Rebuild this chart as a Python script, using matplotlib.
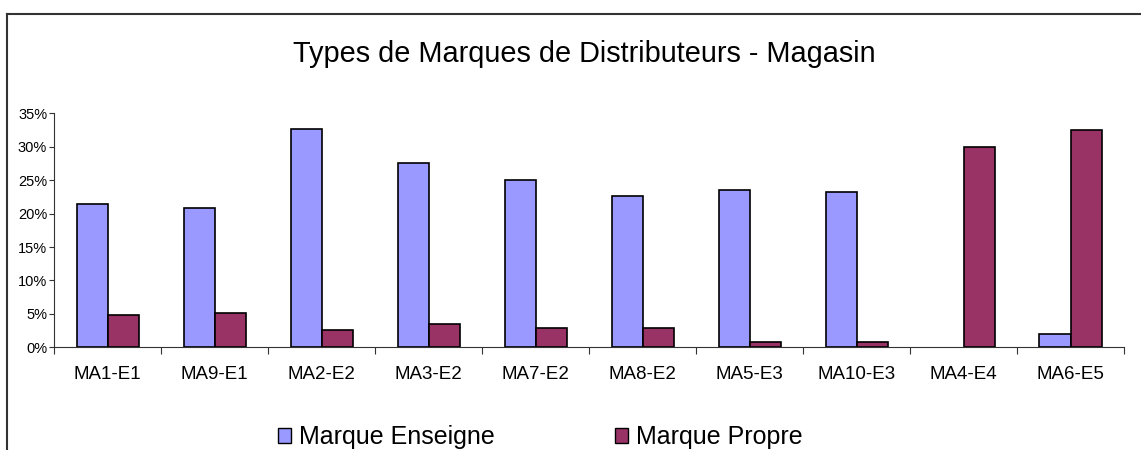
import matplotlib
matplotlib.use("Agg")
import matplotlib.pyplot as plt
import numpy as np
from matplotlib.lines import Line2D
from matplotlib.patches import Rectangle

plt.rcParams['font.family'] = ['Liberation Sans', 'DejaVu Sans']

categories = ["MA1-E1", "MA9-E1", "MA2-E2", "MA3-E2", "MA7-E2",
              "MA8-E2", "MA5-E3", "MA10-E3", "MA4-E4", "MA6-E5"]
marque_enseigne = [21.4, 20.8, 32.7, 27.6, 25.0, 22.6, 23.5, 23.2, 0.0, 2.0]
marque_propre = [4.9, 5.2, 2.6, 3.5, 2.9, 2.9, 0.85, 0.8, 29.9, 32.5]
y_ticks = [0, 5, 10, 15, 20, 25, 30, 35]
y_tick_labels = ["0%", "5%", "10%", "15%", "20%", "25%", "30%", "35%"]
title = "Types de Marques de Distributeurs - Magasin"
series_names = ["Marque Enseigne", "Marque Propre"]
colors = ["#9999FF", "#993366"]

W, H = 1141, 450
fig = plt.figure(figsize=(W / 100, H / 100), dpi=100)

# outer frame (top and left visible)
fig.add_artist(Line2D([7 / W, 1.0], [1 - 13.5 / H, 1 - 13.5 / H], color="#333333", lw=1.5))
fig.add_artist(Line2D([7 / W, 7 / W], [0, 1 - 13.5 / H], color="#333333", lw=1.5))

ax = fig.add_axes([54.3 / W, 1 - 347.3 / H, (1124 - 54.3) / W, (347.3 - 113.3) / H])
x = np.arange(len(categories))
bw = 0.29
for vals, off, c, name in [(marque_enseigne, -bw / 2, colors[0], series_names[0]),
                           (marque_propre, bw / 2, colors[1], series_names[1])]:
    lws = [1.2 if v > 0 else 0 for v in vals]
    ax.bar(x + off, vals, width=bw, color=c, edgecolor="black", linewidth=lws, label=name)

ax.set_xlim(-0.5, len(categories) - 0.5)
ax.set_ylim(0, 35)
ax.set_yticks(y_ticks)
ax.set_yticklabels(y_tick_labels, fontsize=10.5)
ax.set_xticks(x)
ax.set_xticklabels(categories, fontsize=13.5)
ax.tick_params(axis="x", length=0, pad=13.5)
ax.set_xticks(np.arange(-0.5, len(categories)), minor=True)
ax.tick_params(axis="x", which="minor", length=5, width=0.8, color="#333333", direction="out")
ax.tick_params(axis="y", length=3.6, width=0.8, color="#333333", direction="out", pad=1.5)
for s in ["top", "right"]:
    ax.spines[s].set_visible(False)
ax.spines["left"].set_color("#333333")
ax.spines["bottom"].set_color("#333333")
ax.spines["left"].set_linewidth(0.8)
ax.spines["bottom"].set_linewidth(0.8)

fig.text(584 / W, 1 - 62 / H, title, fontsize=20.8, ha="center", va="baseline")

handles = [Rectangle((0, 0), 1, 1, facecolor=c, edgecolor="black", linewidth=1) for c in colors]
fig.legend(handles, series_names, loc="center", bbox_to_anchor=(540 / W, 1 - 437 / H),
           ncol=2, frameon=False, fontsize=18, handlelength=0.55, handleheight=0.55,
           handletextpad=0.3, columnspacing=4.8, borderpad=0, borderaxespad=0)

fig.savefig("out.png", dpi=100)
